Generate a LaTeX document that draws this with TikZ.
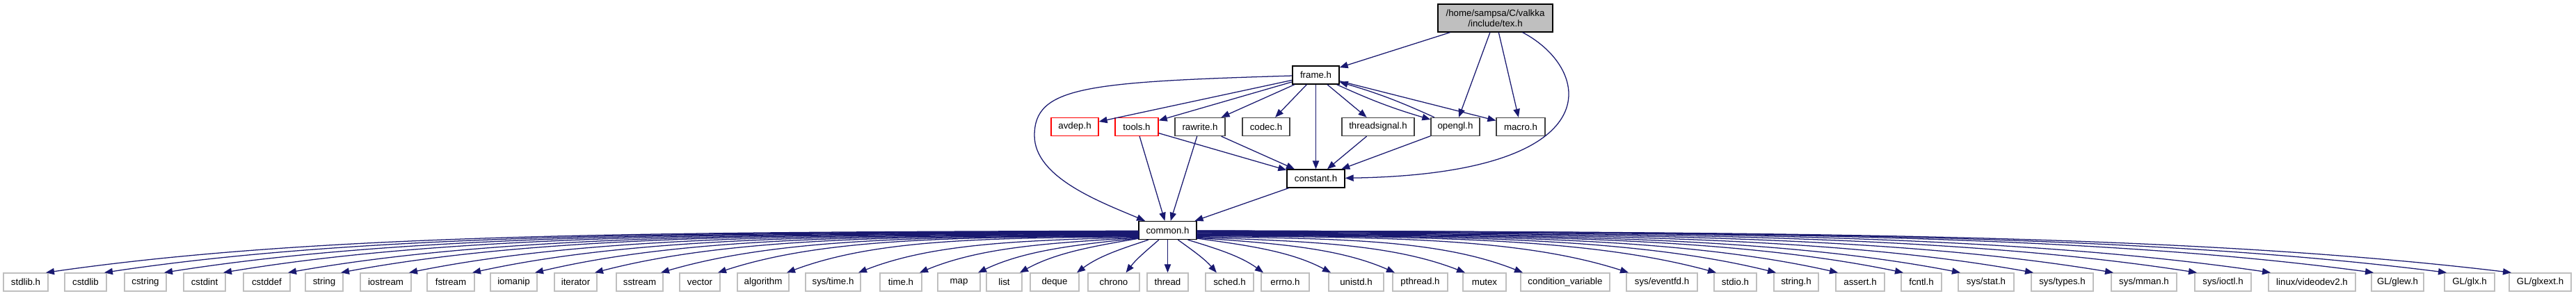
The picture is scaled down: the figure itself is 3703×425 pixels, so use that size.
\documentclass[tikz,border=0pt]{standalone}
\usepackage{fontspec}
\setmainfont{Liberation Sans}
\usetikzlibrary{arrows.meta, calc}
\definecolor{cEdge}{RGB}{25,25,112}
\definecolor{cGrey}{RGB}{191,191,191}
\definecolor{cRed}{RGB}{255,0,0}
\tikzset{
	hdr/.style    ={rectangle, draw=black, fill=white, line width=1bp, minimum height=19.5bp, inner sep=0pt, font=\fontsize{10}{12}\selectfont},
	hdrdoc/.style ={hdr, draw=black!75},
	hdrcut/.style ={hdr, draw=cRed},
	hdrsys/.style ={hdr, draw=cGrey},
	hdrroot/.style={hdr, fill=cGrey, minimum height=30bp, align=center, font=\fontsize{10}{11.3}\selectfont},
	boxw/.style   ={minimum width=#1*0.75bp},
	% include edges
	inc/.style    ={-{Triangle[length=9bp, width=7bp]}, draw=cEdge, line width=0.95bp},
}

\begin{document}
\begin{tikzpicture}[x=0.75bp, y=-0.75bp]
	\fill[white] (0,0) rectangle (3703,425);
	\useasboundingbox (0,0) rectangle (3703,425);
	\node[hdrroot, boxw=165] (tex) at (2149.5,26) {/home/sampsa/C/valkka\\/include/tex.h};
	\node[hdr, boxw=67] (frame) at (1891.5,108) {frame.h};
	\node[hdrcut, boxw=68] (avdep) at (1545,182.5) {avdep.h};
	\node[hdrcut, boxw=62] (tools) at (1634,182.5) {tools.h};
	\node[hdrdoc, boxw=72] (rawrite) at (1725,182.5) {rawrite.h};
	\node[hdrdoc, boxw=68] (codec) at (1820,182.5) {codec.h};
	\node[hdrdoc, boxw=104] (threadsignal) at (1981,182.5) {threadsignal.h};
	\node[hdrdoc, boxw=70] (opengl) at (2092,182.5) {opengl.h};
	\node[hdrdoc, boxw=70] (macro) at (2186,182.5) {macro.h};
	\node[hdr, boxw=83] (constant) at (1891.5,257) {constant.h};
	\node[hdr, boxw=83] (common) at (1678.5,331.5) {common.h};

	\draw[inc] (tex) -- (frame);
	\draw[inc] (tex) -- (opengl);
	\draw[inc] (tex) -- (macro);
	\draw[inc] (tex) .. controls (2290,100) and (2320,250) .. (constant);
	\draw[inc] (frame) .. controls (1560,118) and (1487,125) .. (1487,195) .. controls (1487,255) and (1580,290) .. (common);
	\draw[inc] (frame) -- (avdep);
	\draw[inc] (frame) -- (tools);
	\draw[inc] (frame) -- (rawrite);
	\draw[inc] (frame) -- (codec);
	\draw[inc] (frame) -- (constant);
	\draw[inc] (frame) -- (threadsignal);
	\draw[inc] (frame) to[bend right=4] (opengl);
	\draw[inc] (opengl) to[bend right=4] (frame);
	\draw[inc] (frame) -- (macro);
	\draw[inc] (tools) -- (common);
	\draw[inc] (tools) -- (constant);
	\draw[inc] (rawrite) -- (common);
	\draw[inc] (rawrite) -- (constant);
	\draw[inc] (threadsignal) -- (constant);
	\draw[inc] (opengl) -- (constant);
	\draw[inc] (constant) -- (common);

	% system headers, fanned out below common.h
	\foreach \n/\x/\w/\lab in {
		stdlib/37/64/{stdlib.h}, cstdlib/123/60/{cstdlib}, cstring/209/60/{cstring}, cstdint/294/60/{cstdint},
		cstddef/383.5/67/{cstddef}, string/466/54/{string}, iostream/554.5/73/{iostream}, fstream/648/68/{fstream},
		iomanip/738.5/67/{iomanip}, iterator/827.5/61/{iterator}, sstream/919.5/67/{sstream}, vector/1006/58/{vector},
		algorithm/1097/74/{algorithm}, systime/1197.5/79/{sys/time.h}, time/1295/60/{time.h}, map/1378.5/61/{map},
		list/1443.5/51/{list}, deque/1516/70/{deque}, chrono/1601/74/{chrono}, thread/1678.5/59/{thread},
		sched/1767.5/69/{sched.h}, errno/1847.5/69/{errno.h}, unistd/1949.5/79/{unistd.h}, pthread/2041.5/79/{pthread.h},
		mutex/2134/62/{mutex}, condvar/2250/128/{condition\_variable}, eventfd/2389/102/{sys/eventfd.h},
		stdio/2494.5/61/{stdio.h}, stringh/2582/64/{string.h}, assert/2674/70/{assert.h}, fcntl/2762/58/{fcntl.h},
		sysstat/2855/80/{sys/stat.h}, systypes/2964.5/89/{sys/types.h}, sysmman/3082/94/{sys/mman.h},
		sysioctl/3195.5/81/{sys/ioctl.h}, videodev/3323.5/125/{linux/videodev2.h}, glew/3446.5/75/{GL/glew.h},
		glx/3550/72/{GL/glx.h}, glxext/3651.5/89/{GL/glxext.h}}
	{
		\node[hdrsys, boxw=\w] (\n) at (\x,406) {\lab};
		\pgfmathsetmacro\dx{\x-1678.5}
		\pgfmathsetmacro\sg{(\dx>0)-(\dx<0)}
		\pgfmathsetmacro\ex{-(\sg)*(\w/2-3)*min(1,abs(\dx)/150)}
		\pgfmathsetmacro\Dx{\dx+(\ex)}
		\pgfmathsetmacro\xb{(\Dx)/61.5*13}
		\pgfmathsetmacro\side{abs(\xb)>41.5}
		\pgfmathsetmacro\sx{\side==1 ? (\sg)*41.5 : \xb}
		\pgfmathsetmacro\sy{\side==1 ? 11*min(1,max(0,1-(abs(\dx)-250)/1400))-13 : 0}
		\pgfmathsetmacro\b{min(1,abs(\dx)/600)}
		\pgfmathsetmacro\DxS{(\Dx)-(\sx)}
		\pgfmathsetmacro\DyS{48.5-(\sy)}
		\pgfmathsetmacro\cax{(\sx)+(1/3+0.1*\b)*(\DxS)}
		\pgfmathsetmacro\cay{(\sy)+(1/3-0.3*\b)*(\DyS)}
		\pgfmathsetmacro\cbx{(\ex)-(1/3-0.08*\b)*(\DxS)}
		\pgfmathsetmacro\cby{-(1/3+0.6*\b)*(\DyS)}
		\draw[inc] ($(common.south)+(\sx,\sy)$) .. controls ($(common.south)+(\cax,\cay)$) and ($(\n.north)+(\cbx,\cby)$) .. ($(\n.north)+(\ex,0)$);
	}
\end{tikzpicture}
\end{document}
